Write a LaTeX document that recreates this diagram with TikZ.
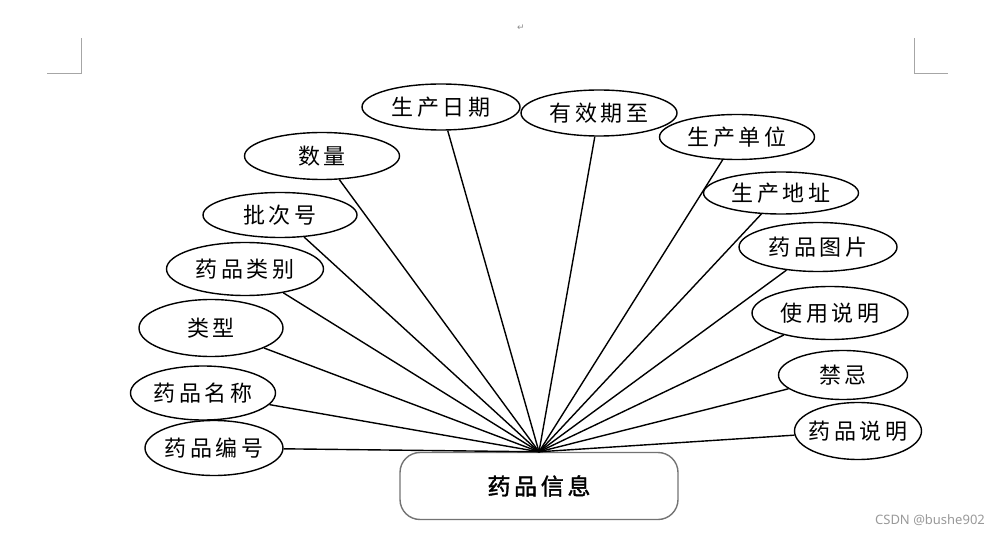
\documentclass[tikz,border=0pt]{standalone}
\usepackage{fontspec}
\newfontfamily\cjk{Noto Sans CJK SC}[LetterSpace=16,BoldFont={Noto Sans CJK SC},BoldFeatures={FakeBold=1.6}]
\newfontfamily\wmfont{Noto Sans}
\newfontfamily\symb{DejaVu Sans}
\usepackage{tikz}
\usetikzlibrary{positioning,shapes.geometric}
\tikzset{
attr/.style={ellipse,draw,line width=1.4pt,inner ysep=0pt,inner xsep=-20pt,font=\cjk\fontsize{22}{25}\selectfont},
entity/.style={rectangle,rounded corners=20pt,draw=black!55,line width=1.4pt,minimum width=278pt,minimum height=67pt,font=\cjk\bfseries\fontsize{23}{26}\selectfont},
pagemark/.style={draw=black!35,line width=0.9pt}
}
\begin{document}
\begin{tikzpicture}[x=1pt,y=-1pt]
\useasboundingbox (0,0) rectangle (1003,534);
% page marks
\draw[pagemark] (47,73) -- (81,73) -- (81,38);
\draw[pagemark] (914,38) -- (914,73) -- (948,73);
\node[text=black!45,font=\symb\fontsize{9}{10}\selectfont] (ret) at (521,28) {↵};
% entity
\node[entity] (info) at (539,486) {药品信息};
% attributes, left side
\node[attr,minimum width=138pt,minimum height=55pt] (id) at (214,448) {药品编号};
\node[attr,minimum width=145pt,minimum height=54pt] (name) at (203,393) {药品名称};
\node[attr,minimum width=144pt,minimum height=57pt] (kind) at (211,328) {类型};
\node[attr,minimum width=157pt,minimum height=53pt] (cat) at (245,269) {药品类别};
\node[attr,minimum width=154pt,minimum height=45pt] (batch) at (280,215) {批次号};
\node[attr,minimum width=155pt,minimum height=47pt] (qty) at (322,156) {数量};
% attributes, top and right side
\node[attr,minimum width=158pt,minimum height=46pt] (pdate) at (441,107) {生产日期};
\node[attr,minimum width=156pt,minimum height=46pt] (valid) at (599,113) {有效期至};
\node[attr,minimum width=155pt,minimum height=45pt] (maker) at (737,137) {生产单位};
\node[attr,minimum width=155pt,minimum height=42pt] (addr) at (781,193) {生产地址};
\node[attr,minimum width=158pt,minimum height=49pt] (pic) at (818,247) {药品图片};
\node[attr,minimum width=156pt,minimum height=53pt] (usage) at (830,313) {使用说明};
\node[attr,minimum width=129pt,minimum height=49pt] (taboo) at (843,375) {禁忌};
\node[attr,minimum width=127pt,minimum height=57pt] (desc) at (858,431) {药品说明};
% connectors
\path[line width=1.4pt]
(info.north) edge (id)
(info.north) edge (name)
(info.north) edge (kind)
(info.north) edge (cat)
(info.north) edge (batch)
(info.north) edge (qty)
(info.north) edge (pdate)
(info.north) edge (valid)
(info.north) edge (maker)
(info.north) edge (addr)
(info.north) edge (pic)
(info.north) edge (usage)
(info.north) edge (taboo)
(info.north) edge (desc);
\node[text=black!40,font=\wmfont\fontsize{13}{15}\selectfont] (wm) at (930,520) {CSDN @bushe902};
\end{tikzpicture}
\end{document}
